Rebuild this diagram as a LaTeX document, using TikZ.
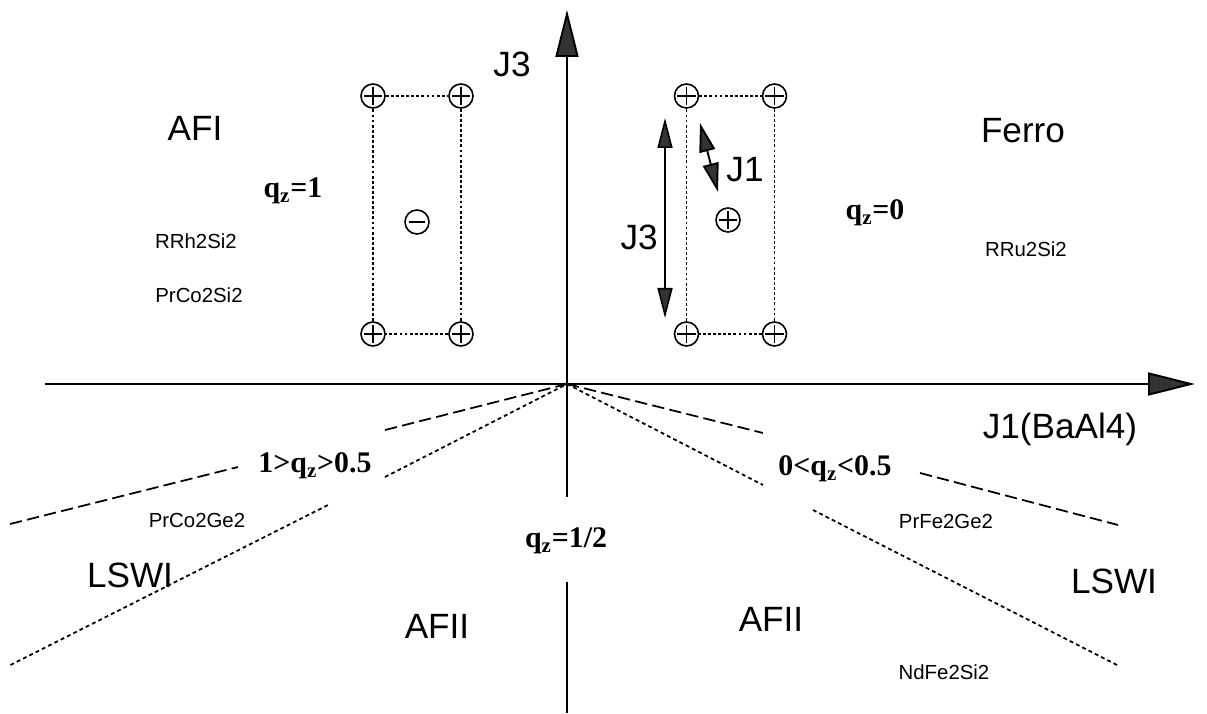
\documentclass[tikz,border=0pt]{standalone}
\usepackage{fontspec}
\setmainfont{Liberation Serif}
\setsansfont{Liberation Sans}
\usetikzlibrary{arrows.meta}

\tikzset{
  phase/.style={font=\sffamily\fontsize{20}{24}\selectfont},
  compound/.style={font=\sffamily\fontsize{11.6}{13}\selectfont},
  wavevec/.style={font=\bfseries\fontsize{17}{20}\selectfont},
  plusspin/.style={circle, draw, line width=0.9pt, minimum size=0.48cm, inner sep=0pt,
    path picture={\draw[line width=0.8pt]
      ([yshift=-1.6pt]path picture bounding box.north) -- ([yshift=1.6pt]path picture bounding box.south)
      ([xshift=1.6pt]path picture bounding box.west) -- ([xshift=-1.6pt]path picture bounding box.east);}},
  minusspin/.style={circle, draw, line width=0.9pt, minimum size=0.48cm, inner sep=0pt,
    path picture={\draw[line width=0.8pt]
      ([xshift=2.2pt]path picture bounding box.west) -- ([xshift=-2.2pt]path picture bounding box.east);}},
  cellline/.style={line width=0.9pt, dash pattern=on 1.6pt off 1.3pt},
  bound/.style={line width=1pt, dash pattern=on 7pt off 3pt},
  bounddot/.style={line width=1pt, dash pattern=on 2.2pt off 1.8pt},
  axis/.style={line width=1.1pt},
  bigtip/.tip={Triangle[length=0.94cm, width=0.46cm, fill=black!80]},
  smalltip/.tip={Triangle[length=0.6cm, width=0.3cm, fill=black!80]},
}

\begin{document}
\begin{tikzpicture}
  \useasboundingbox (-11.34,-6.58) rectangle (12.8,7.68);
  % axes
  \coordinate (O) at (0,0);
  \coordinate (xl) at (-10.44,0); \coordinate (xr) at (12.56,0);
  \coordinate (yt) at (0,7.48); \coordinate (yb) at (0,-6.58);
  \coordinate (gapt) at (0,-2.26); \coordinate (gapb) at (0,-3.96);
  \draw[axis, -bigtip] (xl) -- (xr);
  \draw[axis, -bigtip] (gapt) -- (yt);
  \draw[axis] (gapb) -- (yb);
  \node[phase] (j3ax) at (-1.1,6.4) {J3};
  \node[phase] (j1ax) at (9.86,-0.9) {J1(BaAl4)};

  % AFI cell
  \node[plusspin] (a1) at (-3.88,5.76) {};
  \node[plusspin] (a2) at (-2.12,5.76) {};
  \node[plusspin] (a3) at (-3.88,1.0) {};
  \node[plusspin] (a4) at (-2.12,1.0) {};
  \node[minusspin] (ac) at (-3.0,3.24) {};
  \draw[cellline] (a1) -- (a2) -- (a4) -- (a3) -- (a1);

  % Ferro cell
  \node[plusspin] (f1) at (2.39,5.76) {};
  \node[plusspin] (f2) at (4.15,5.76) {};
  \node[plusspin] (f3) at (2.39,1.0) {};
  \node[plusspin] (f4) at (4.15,1.0) {};
  \node[plusspin] (fc) at (3.22,3.28) {};
  \draw[cellline] (f1) -- (f2) -- (f4) -- (f3) -- (f1);
  \coordinate (j3t) at (1.96,5.32); \coordinate (j3b) at (1.96,1.32);
  \draw[line width=0.9pt, smalltip-smalltip] (j3t) -- (j3b);
  \node[phase, anchor=east] (j3cell) at (1.94,2.94) {J3};
  \coordinate (j1t) at (2.66,5.22); \coordinate (j1b) at (3.02,3.84);
  \draw[line width=1.1pt, {Triangle[length=0.58cm, width=0.32cm, fill=black!80]}-{Triangle[length=0.58cm, width=0.32cm, fill=black!80]}] (j1t) -- (j1b);
  \node[phase] (j1cell) at (3.56,4.28) {J1};

  % upper labels
  \node[phase] (afi) at (-7.44,5.12) {AFI};
  \node[wavevec] (q1) at (-5.48,3.86) {q\textsubscript{z}=1};
  \node[compound] (rrh) at (-7.42,2.86) {RRh2Si2};
  \node[compound] (prcosi) at (-7.36,1.78) {PrCo2Si2};
  \node[phase] (ferro) at (9.12,5.06) {Ferro};
  \node[wavevec] (q0) at (6.16,3.42) {q\textsubscript{z}=0};
  \node[compound] (rru) at (9.18,2.7) {RRu2Si2};

  % phase boundaries, left
  \coordinate (ld1) at (-11.14,-2.8); \coordinate (ld2) at (-6.58,-1.66); \coordinate (ld3) at (-3.64,-0.92);
  \coordinate (lp1) at (-11.13,-5.62); \coordinate (lp2) at (-4.74,-2.4); \coordinate (lp3) at (-3.64,-1.86);
  \draw[bound] (ld1) -- (ld2); \draw[bound] (ld3) -- (O);
  \draw[bounddot] (lp1) -- (lp2); \draw[bounddot] (lp3) -- (O);
  % phase boundaries, right
  \coordinate (rd1) at (3.92,-0.98); \coordinate (rd2) at (7.06,-1.78); \coordinate (rd3) at (11.02,-2.82);
  \coordinate (rp1) at (3.92,-2.02); \coordinate (rp2) at (4.92,-2.52); \coordinate (rp3) at (11.0,-5.62);
  \draw[bound] (O) -- (rd1); \draw[bound] (rd2) -- (rd3);
  \draw[bounddot] (O) -- (rp1); \draw[bounddot] (rp2) -- (rp3);

  % lower labels
  \node[wavevec] (qlw) at (-5.04,-1.64) {1>q\textsubscript{z}>0.5};
  \node[wavevec] (qrw) at (5.36,-1.7) {0<q\textsubscript{z}<0.5};
  \node[wavevec] (qh) at (-0.02,-3.14) {q\textsubscript{z}=1/2};
  \node[compound] (prcoge) at (-7.4,-2.72) {PrCo2Ge2};
  \node[phase] (lswil) at (-8.74,-3.82) {LSWI};
  \node[phase] (afiil) at (-2.6,-4.84) {AFII};
  \node[phase] (afiir) at (4.08,-4.7) {AFII};
  \node[compound] (prfege) at (7.58,-2.74) {PrFe2Ge2};
  \node[phase] (lswir) at (10.94,-3.94) {LSWI};
  \node[compound] (ndfesi) at (7.54,-5.76) {NdFe2Si2};
\end{tikzpicture}
\end{document}
